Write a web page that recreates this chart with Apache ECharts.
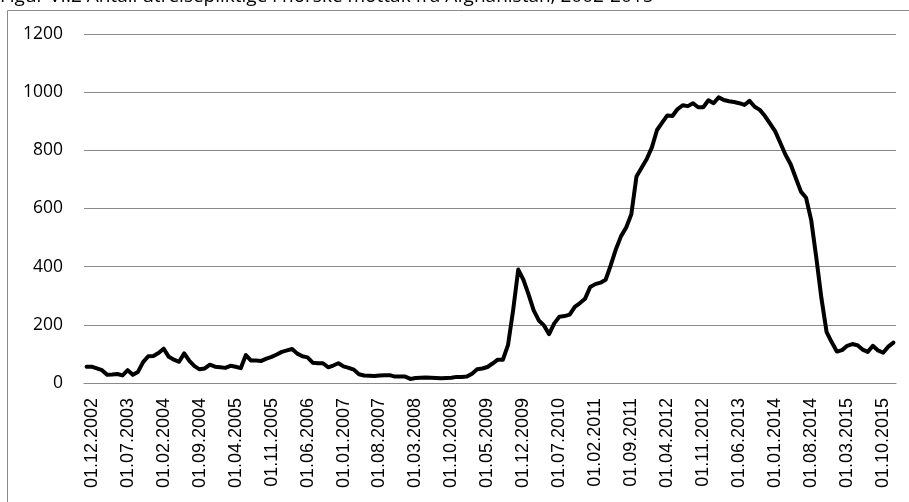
<!DOCTYPE html>
<html>
<head>
<meta charset="utf-8">
<script src="https://cdn.jsdelivr.net/npm/echarts@6/dist/echarts.min.js"></script>
<style>
  html, body { margin: 0; padding: 0; background: #fff; }
  #chart { width: 909px; height: 502px; }
</style>
</head>
<body>
<div id="chart"></div>
<script>
const titleText = 'Figur VI.2 Antall utreisepliktige i norske mottak fra Afghanistan, 2002-2015'

// monthly observations, Nov 2002 - Dec 2015
const startYear = 2002
const startMonth = 11
const monthCount = 158

const values = [
  56, 56, 50, 44, 28, 29, 31, 26, 44, 28,
  38, 72, 92, 93, 103, 118, 90, 80, 73, 102,
  76, 58, 47, 50, 63, 56, 54, 52, 59, 56,
  51, 96, 77, 77, 76, 84, 90, 98, 107, 112,
  117, 101, 92, 88, 70, 68, 68, 54, 60, 68,
  57, 52, 46, 30, 26, 25, 24, 26, 27, 27,
  22, 22, 22, 14, 17, 18, 19, 18, 17, 16,
  17, 18, 21, 21, 22, 32, 47, 50, 55, 67,
  80, 80, 130, 250, 390, 355, 305, 250, 215, 198,
  168, 205, 228, 230, 235, 262, 275, 290, 330, 340,
  345, 355, 405, 460, 505, 535, 580, 710, 740, 770,
  810, 870, 895, 920, 918, 942, 955, 952, 962, 948,
  948, 972, 962, 982, 973, 969, 966, 962, 956, 970,
  950, 939, 918, 892, 865, 825, 785, 752, 705, 658,
  637, 560, 430, 290, 175, 140, 108, 113, 128, 134,
  130, 115, 107, 128, 112, 104, 125, 139,
]

const yTicks = [0, 200, 400, 600, 800, 1000, 1200]

function monthLabels() {
  const out = []
  for (let k = 0; k < monthCount; k++) {
    const m = (startMonth - 1 + k) % 12 + 1
    const y = startYear + Math.floor((startMonth - 1 + k) / 12)
    out.push('01.' + String(m).padStart(2, '0') + '.' + y)
  }
  return out
}

const categories = monthLabels()

const chart = echarts.init(document.getElementById('chart'))

chart.setOption({
  animation: false,
  graphic: [
    {
      type: 'rect',
      shape: { x: 7.5, y: 10.5, width: 1000, height: 600 },
      style: { fill: 'none', stroke: '#8a8a8a', lineWidth: 1 },
      silent: true,
    },
    {
      type: 'text',
      x: 0,
      y: -3,
      style: {
        text: titleText,
        font: '19px "Open Sans"',
        fill: '#000',
        verticalAlign: 'middle',
      },
    },
  ],
  grid: { left: 84, right: 13, top: 34, bottom: 119 },
  xAxis: {
    type: 'category',
    data: categories,
    boundaryGap: true,
    axisLine: { lineStyle: { color: '#8a8a8a', width: 1 } },
    axisTick: { show: false },
    axisLabel: {
      rotate: 90,
      margin: 15,
      interval: (index) => index % 7 === 1,
      fontFamily: 'Liberation Sans',
      fontSize: 18,
      color: '#000',
    },
    splitLine: { show: false },
  },
  yAxis: {
    type: 'value',
    min: yTicks[0],
    max: yTicks[yTicks.length - 1],
    interval: 200,
    axisLine: { show: false },
    axisTick: { show: false },
    axisLabel: {
      margin: 21,
      fontFamily: 'Open Sans',
      fontSize: 17.5,
      color: '#000',
      formatter: (v) => String(v),
    },
    splitLine: { lineStyle: { color: '#8a8a8a', width: 1 } },
  },
  series: [
    {
      type: 'line',
      data: values,
      symbol: 'none',
      lineStyle: { color: '#000', width: 4, join: 'round', cap: 'round' },
    },
  ],
})
</script>
</body>
</html>
